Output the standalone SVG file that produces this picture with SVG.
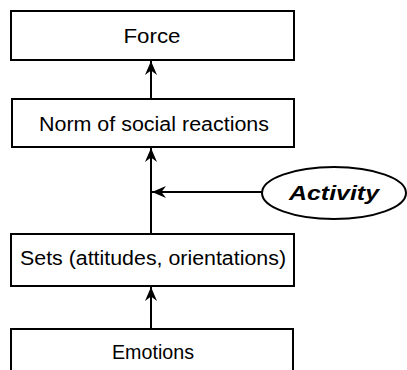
<svg xmlns="http://www.w3.org/2000/svg" width="407" height="370" viewBox="0 0 407 370">
  <style>
    .box { fill: #ffffff; stroke: #000000; stroke-width: 2; }
    .lbl { font-family: "Liberation Sans", Arial, sans-serif; font-size: 20px; fill: #000000; text-anchor: middle; }
    .act { font-family: "Liberation Sans", Arial, sans-serif; font-size: 20px; font-weight: bold; font-style: italic; fill: #000000; text-anchor: middle; }
    .edge { stroke: #000000; stroke-width: 2; fill: none; marker-end: url(#arrow); }
  </style>
  <defs>
    <marker id="arrow" markerUnits="userSpaceOnUse" markerWidth="16" markerHeight="14" viewBox="-15 -7 16 14" refX="0" refY="0" orient="auto">
      <path d="M0,0 L-14,-6 L-9.5,0 L-14,6 Z" fill="#000000"/>
    </marker>
  </defs>

  <rect width="407" height="370" fill="#ffffff"/>

  <g id="force">
    <rect class="box" x="11" y="11" width="283" height="49"/>
    <text class="lbl" x="152" y="43" textLength="57" lengthAdjust="spacingAndGlyphs">Force</text>
  </g>

  <g id="norm">
    <rect class="box" x="12" y="99" width="282" height="48"/>
    <text class="lbl" x="154" y="131" textLength="230" lengthAdjust="spacingAndGlyphs">Norm of social reactions</text>
  </g>

  <g id="sets">
    <rect class="box" x="11" y="234" width="283" height="52"/>
    <text class="lbl" x="153" y="265" textLength="266" lengthAdjust="spacingAndGlyphs">Sets (attitudes, orientations)</text>
  </g>

  <g id="emotions">
    <path class="box" d="M11,372 L11,329 L293,329 L293,372"/>
    <text class="lbl" x="153" y="359" textLength="82" lengthAdjust="spacingAndGlyphs">Emotions</text>
  </g>

  <g id="activity">
    <ellipse class="box" cx="334" cy="193" rx="72" ry="26"/>
    <text class="act" x="334" y="200" textLength="90" lengthAdjust="spacingAndGlyphs">Activity</text>
  </g>

  <g id="connectors">
    <line class="edge" x1="151" y1="99" x2="151" y2="61"/>
    <line class="edge" x1="151" y1="234" x2="151" y2="148"/>
    <line class="edge" x1="151" y1="329" x2="151" y2="287"/>
    <line class="edge" x1="262" y1="192" x2="152" y2="192"/>
  </g>
</svg>
